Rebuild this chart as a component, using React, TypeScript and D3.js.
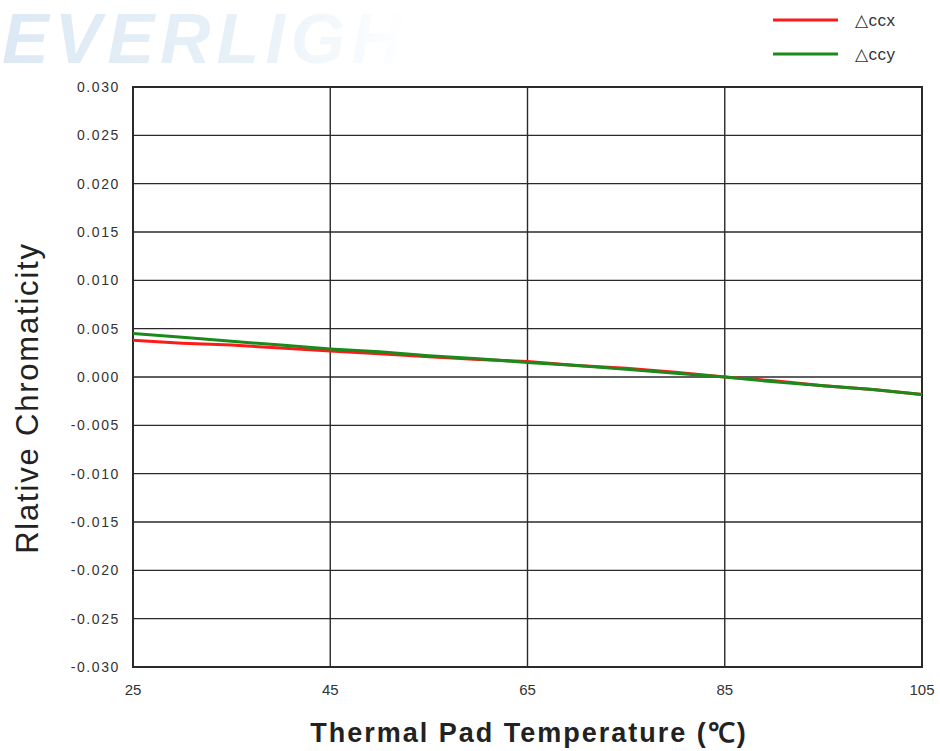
import React, { useEffect, useRef } from "react";
import * as d3 from "d3";

const temps = [25, 30, 35, 40, 45, 50, 55, 60, 65, 70, 75, 80, 85, 90, 95, 100, 105];
const ccx = [0.0038, 0.0035, 0.0033, 0.003, 0.0027, 0.0024, 0.0021, 0.0018, 0.0016, 0.0012, 0.0009, 0.0005, 0.0, -0.0004, -0.0009, -0.0013, -0.0018];
const ccy = [0.0045, 0.0041, 0.0037, 0.0033, 0.0029, 0.0026, 0.0022, 0.0019, 0.0015, 0.0012, 0.0008, 0.0004, 0.0, -0.0005, -0.0009, -0.0013, -0.0018];
const xTicks = [25, 45, 65, 85, 105];
const yTicks = [0.03, 0.025, 0.02, 0.015, 0.01, 0.005, 0, -0.005, -0.01, -0.015, -0.02, -0.025, -0.03];
const seriesNames = ["\u25B3ccx", "\u25B3ccy"];
const seriesColors = ["#ff1a1a", "#1a8a1a"];

export default function App() {
  const ref = useRef<SVGSVGElement>(null);
  useEffect(() => {
    const svg = d3.select(ref.current);
    svg.selectAll("*").remove();
    const W = 940, H = 751;
    const left = 133, right = 922, top = 87, bottom = 667;
    const x = d3.scaleLinear().domain([25, 105]).range([left, right]);
    const y = d3.scaleLinear().domain([-0.03, 0.03]).range([bottom, top]);

    svg.append("rect").attr("width", W).attr("height", H).attr("fill", "#fff");

    // watermark
    const defs = svg.append("defs");
    const grad = defs.append("linearGradient").attr("id", "wm").attr("x1", "0").attr("x2", "1").attr("y1", "0").attr("y2", "0");
    grad.append("stop").attr("offset", "0").attr("stop-color", "#dce9f4");
    grad.append("stop").attr("offset", "0.55").attr("stop-color", "#e8f1f8");
    grad.append("stop").attr("offset", "0.9").attr("stop-color", "#ffffff");
    svg.append("text")
      .attr("x", 2).attr("y", 63)
      .attr("font-family", "Liberation Sans, Arial, sans-serif")
      .attr("font-weight", "bold").attr("font-style", "italic")
      .attr("font-size", 70)
      .attr("letter-spacing", 6)
      .attr("fill", "url(#wm)")
      .text("EVERLIGHT");

    const g = svg.append("g");
    // grid
    g.selectAll("line.h").data(yTicks).enter().append("line")
      .attr("x1", left).attr("x2", right)
      .attr("y1", d => y(d)).attr("y2", d => y(d))
      .attr("stroke", "#2a2a2a").attr("stroke-width", 1.4);
    g.selectAll("line.v").data(xTicks).enter().append("line")
      .attr("y1", top).attr("y2", bottom)
      .attr("x1", d => x(d)).attr("x2", d => x(d))
      .attr("stroke", "#2a2a2a").attr("stroke-width", 1.4);
    g.append("rect").attr("x", left).attr("y", top).attr("width", right - left).attr("height", bottom - top)
      .attr("fill", "none").attr("stroke", "#2a2a2a").attr("stroke-width", 2);

    // tick labels
    g.selectAll("text.yt").data(yTicks).enter().append("text")
      .attr("x", 120).attr("y", d => y(d)).attr("dy", "0.35em")
      .attr("text-anchor", "end")
      .attr("font-family", "Liberation Sans, Arial, sans-serif").attr("font-size", 14)
      .attr("letter-spacing", 1.6)
      .attr("fill", "#333")
      .text(d => d3.format(".3f")(d).replace("\u2212", "-"));
    g.selectAll("text.xt").data(xTicks).enter().append("text")
      .attr("x", d => x(d)).attr("y", 695)
      .attr("text-anchor", "middle")
      .attr("font-family", "Liberation Sans, Arial, sans-serif").attr("font-size", 15)
      .attr("fill", "#333")
      .text(d => String(d));

    // lines
    const line = d3.line<number>().x((_, i) => x(temps[i])).y(d => y(d));
    [ccx, ccy].forEach((s, i) => {
      g.append("path").attr("d", line(s) as string).attr("fill", "none")
        .attr("stroke", seriesColors[i]).attr("stroke-width", 3);
    });

    // legend
    const lg = svg.append("g");
    [0, 1].forEach(i => {
      const ly = 20 + i * 34;
      lg.append("line").attr("x1", 773).attr("x2", 838).attr("y1", ly).attr("y2", ly)
        .attr("stroke", seriesColors[i]).attr("stroke-width", 3);
      lg.append("text").attr("x", 855).attr("y", ly).attr("dy", "0.35em")
        .attr("font-family", "Liberation Sans, Arial, sans-serif").attr("font-size", 17)
        .attr("letter-spacing", 0.5)
        .attr("fill", "#333").text(seriesNames[i]);
    });

    // axis titles
    svg.append("text").attr("x", 529).attr("y", 742)
      .attr("text-anchor", "middle")
      .attr("font-family", "Liberation Sans, Arial, sans-serif").attr("font-size", 27)
      .attr("font-weight", "bold").attr("letter-spacing", 2)
      .attr("fill", "#222")
      .text("Thermal Pad Temperature (\u2103)");
    svg.append("text")
      .attr("transform", "translate(38,398) rotate(-90)")
      .attr("text-anchor", "middle")
      .attr("font-family", "Liberation Sans, Arial, sans-serif").attr("font-size", 31)
      .attr("letter-spacing", 1.8)
      .attr("fill", "#222")
      .text("Rlative Chromaticity");
  }, []);
  return (
    <svg ref={ref} width={940} height={751} style={{ position: "fixed", left: 0, top: 0, display: "block" }} />
  );
}
